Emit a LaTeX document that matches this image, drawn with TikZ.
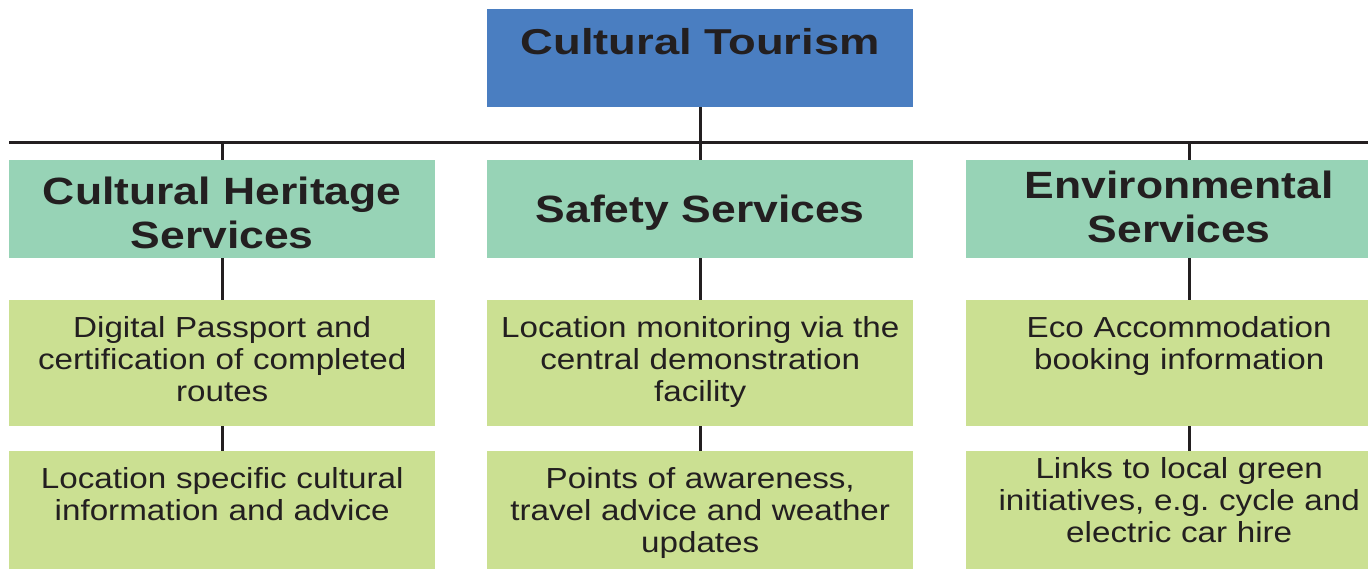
\documentclass[tikz,border=0pt]{standalone}
\usepackage{fontspec}
\setmainfont{Liberation Sans}
\newfontfamily\titlefont{Liberation Sans}[FakeStretch=1.26]
\newfontfamily\headfont{Liberation Sans}[FakeStretch=1.17]
\newfontfamily\itemfont{Liberation Sans}[FakeStretch=1.145]
\definecolor{topblue}{HTML}{4A7EC1}
\definecolor{headgreen}{HTML}{97D3B6}
\definecolor{itemgreen}{HTML}{CBE092}
\definecolor{inkgray}{HTML}{231F20}
\frenchspacing
\begin{document}
\begin{tikzpicture}[x=1pt, y=-1pt,
        box/.style={anchor=north west, inner sep=0pt, minimum width=426pt, text width=420pt, align=center, text=inkgray},
        topbox/.style={box, fill=topblue, font=\titlefont\fontsize{36}{42}\selectfont\bfseries, text height=45pt, text depth=53pt},
        headbox/.style={box, fill=headgreen, font=\headfont\fontsize{38}{44}\selectfont\bfseries},
        itembox/.style={box, fill=itemgreen, font=\itemfont\fontsize{29}{32}\selectfont},
        link/.style={draw=inkgray, line width=3pt}
    ]
    \useasboundingbox (0,0) rectangle (1368,568);
    \clip (0,0) rectangle (1368,568);

    % root and bus line
    \node[topbox] (tour) at (487,9) {Cultural Tourism};
    \coordinate (busw) at (9,142);
    \coordinate (buse) at (1368,142);

    % service headings
    \node[headbox, text height=44pt, text depth=54pt] (heri) at (9,160) {Cultural Heritage\\Services};
    \node[headbox, text height=62pt, text depth=36pt] (safe) at (487,160) {Safety Services};
    \node[headbox, text height=38pt, text depth=60pt] (envi) at (966,160) {Environmental\\Services};

    % first row of items
    \node[itembox, text height=37pt, text depth=89pt] (pass) at (9,300) {Digital Passport and\\certification of completed\\routes};
    \node[itembox, text height=37pt, text depth=89pt] (moni) at (487,300) {Location monitoring via the\\central demonstration\\facility};
    \node[itembox, text height=37pt, text depth=89pt] (ecoa) at (966,300) {Eco Accommodation\\booking information};

    % second row of items
    \node[itembox, text height=37pt, text depth=88pt] (info) at (9,451) {Location specific cultural\\information and advice};
    \node[itembox, text height=37pt, text depth=88pt] (awar) at (487,451) {Points of awareness,\\travel advice and weather\\updates};
    \node[itembox, text height=27pt, text depth=98pt] (gree) at (966,451) {Links to local green\\initiatives, e.g. cycle and\\electric car hire};

    % connectors
    \draw[link] (busw) -- (buse);
    \draw[link] (tour.south) -- (tour.south |- busw);
    \draw[link] (heri.north |- busw) -- (heri.north);
    \draw[link] (safe.north |- busw) -- (safe.north);
    \draw[link] ([xshift=10pt]envi.north |- busw) -- ([xshift=10pt]envi.north);
    \draw[link] (heri.south) -- (pass.north);
    \draw[link] (safe.south) -- (moni.north);
    \draw[link] ([xshift=10pt]envi.south) -- ([xshift=10pt]ecoa.north);
    \draw[link] (pass.south) -- (info.north);
    \draw[link] (moni.south) -- (awar.north);
    \draw[link] ([xshift=10pt]ecoa.south) -- ([xshift=10pt]gree.north);
\end{tikzpicture}
\end{document}
